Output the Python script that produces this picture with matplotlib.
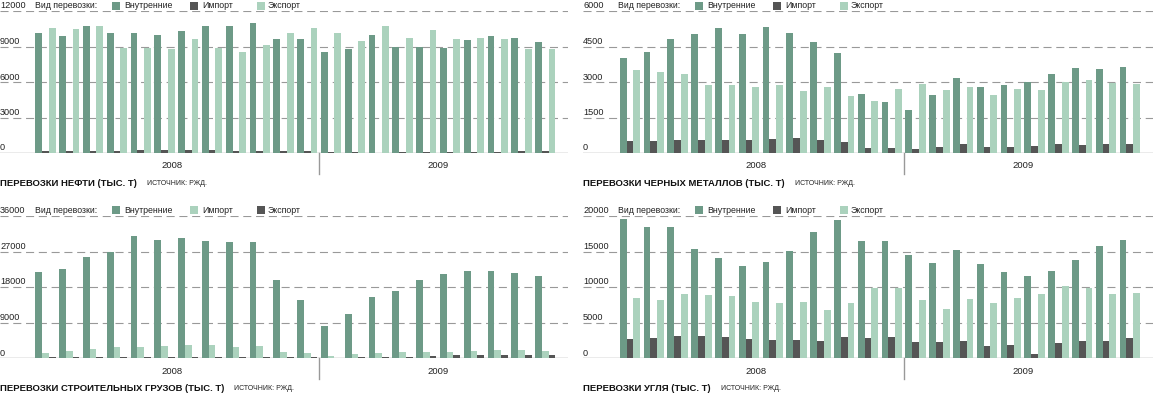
import matplotlib
matplotlib.use("Agg")
import matplotlib.pyplot as plt
import numpy as np

# ---- data (thousand tonnes), Jan 2008 .. Oct 2009 ----
oil_internal = [10100, 9850, 10750, 10150, 10100, 10000, 10300, 10700, 10700, 10950, 9650, 9650,
                8550, 8800, 10000, 8950, 8950, 8900, 9550, 9900, 9750, 9350]
oil_import = [200, 150, 200, 200, 280, 280, 280, 280, 200, 150, 150, 200,
              110, 110, 30, 110, 110, 110, 110, 110, 200, 200]
oil_export = [10600, 10500, 10700, 8900, 8900, 8800, 9600, 8900, 8500, 9100, 10100, 10600,
              10150, 9500, 10750, 9750, 10400, 9600, 9750, 9600, 8800, 8800]

metal_internal = [4020, 4270, 4820, 5040, 5280, 5040, 5340, 5090, 4690, 4230, 2500, 2160,
                  1830, 2460, 3180, 2800, 2880, 3010, 3340, 3600, 3560, 3640]
metal_import = [520, 520, 560, 560, 560, 560, 600, 650, 560, 480, 230, 230,
                180, 270, 390, 270, 270, 310, 390, 350, 390, 390]
metal_export = [3510, 3430, 3340, 2880, 2880, 2800, 2880, 2630, 2800, 2420, 2210, 2710,
                2920, 2670, 2800, 2460, 2710, 2670, 3010, 3090, 2970, 2920]

build_internal = [21840, 22600, 25630, 26900, 30940, 29930, 30440, 29680, 29420, 29420, 19810, 14750,
                  8180, 11210, 15510, 17030, 19810, 21330, 22090, 22090, 21580, 20820]
build_import = [1350, 1850, 2360, 2870, 2870, 3120, 3370, 3370, 2870, 3120, 1600, 1350,
                590, 1100, 1350, 1600, 1600, 1600, 1850, 2110, 2110, 1850]
build_export = [340, 340, 340, 340, 340, 340, 340, 340, 340, 340, 340, 340,
                80, 340, 340, 340, 590, 840, 840, 840, 840, 840]

coal_internal = [19580, 18450, 18450, 15360, 14100, 12970, 13540, 15080, 17750, 19440, 16490, 16490,
                 14520, 13400, 15220, 13260, 12130, 11570, 12270, 13820, 15790, 16630]
coal_import = [2720, 2860, 3140, 3140, 3000, 2720, 2580, 2580, 2440, 3000, 2860, 3000,
               2300, 2300, 2440, 1730, 1870, 610, 2160, 2440, 2440, 2860]
coal_export = [8480, 8200, 9040, 8900, 8760, 7920, 7780, 7920, 6790, 7780, 9880, 9880,
               8200, 6930, 8340, 7780, 8480, 9040, 10160, 9880, 9040, 9180]

years = ["2008", "2009"]
legend_title = "Вид перевозки:"
series_names = ["Внутренние", "Импорт", "Экспорт"]
source = "ИСТОЧНИК: РЖД."

GREEN = "#6d9a87"
LIGHT = "#abd2bd"
GRAY = "#555555"
GRID = "#999999"
INK = "#222222"

plt.rcParams["font.family"] = ["Liberation Sans", "DejaVu Sans"]
plt.rcParams["lines.scale_dashes"] = False

W, H = 1154, 394
fig = plt.figure(figsize=(W / 100, H / 100), dpi=100)

SPACING = 23.8  # px per month


def panel(left, top, width, base, first_px, ymax, ystep, values, colors, title):
    hp = base - top
    ax = fig.add_axes([left / W, 1 - base / H, width / W, hp / H])
    ax.set_axis_off()
    n = len(values[0])
    x = np.arange(n)
    ax.set_xlim(-first_px / SPACING, (width - first_px) / SPACING)
    ax.set_ylim(0, ymax)

    bw = 0.285
    for k, (vals, c) in enumerate(zip(values, colors)):
        ax.bar(x + (k - 1) * bw, vals, bw, color=c, linewidth=0, zorder=3)

    # grid + baseline
    for v in np.arange(ystep, ymax + 1, ystep):
        ax.axhline(v, color=GRID, lw=0.8, dashes=(5.8, 3.4), zorder=1)
    ax.axhline(0, color=GRID, lw=1.0, zorder=2)

    def px(xp, yp):  # pixel offsets from axes top-left
        return xp / width, 1 - yp / hp

    for v in np.arange(0, ymax + 1, ystep):
        ax.text(0, v + ymax * 2.5 / hp, f"{int(v)}", transform=ax.get_yaxis_transform(),
                ha="left", va="baseline", fontsize=6.6, color=INK)

    # legend above the top gridline
    ax.text(*px(35, -5.5), legend_title, transform=ax.transAxes, ha="left", va="center",
            fontsize=6.3, color=INK, clip_on=False)
    for (sx, tx), name, c in zip([(112, 124), (190, 202), (257, 268)], series_names, colors):
        ax.add_patch(plt.Rectangle(px(sx, -1.5), 8 / width, 8 / hp, transform=ax.transAxes,
                                   color=c, clip_on=False, lw=0))
        ax.text(*px(tx, -5.5), name, transform=ax.transAxes, ha="left", va="center",
                fontsize=6.3, color=INK, clip_on=False)

    # year divider and labels
    tr = ax.get_xaxis_transform()
    ax.plot([11.5, 11.5], [0, -21 / hp], color=GRID, lw=1.0, transform=tr, clip_on=False)
    ax.text(5.3, -13 / hp, years[0], transform=tr, ha="center", va="center", fontsize=6.8,
            color=INK)
    ax.text(16.5, -13 / hp, years[1], transform=tr, ha="center", va="center", fontsize=6.8,
            color=INK)

    t = ax.text(*px(0, hp + 30.5), title, transform=ax.transAxes, ha="left", va="center",
                fontsize=6.8, fontweight="bold", color="#111111", clip_on=False)
    return ax, t


panels = [
    panel(0, 11, 568, 153, 45.5, 12000, 3000, [oil_internal, oil_import, oil_export],
          [GREEN, GRAY, LIGHT], "ПЕРЕВОЗКИ НЕФТИ (ТЫС. Т)"),
    panel(583, 11, 570, 153, 47, 6000, 1500, [metal_internal, metal_import, metal_export],
          [GREEN, GRAY, LIGHT], "ПЕРЕВОЗКИ ЧЕРНЫХ МЕТАЛЛОВ (ТЫС. Т)"),
    panel(0, 216, 568, 358, 45.5, 36000, 9000, [build_internal, build_import, build_export],
          [GREEN, LIGHT, GRAY], "ПЕРЕВОЗКИ СТРОИТЕЛЬНЫХ ГРУЗОВ (ТЫС. Т)"),
    panel(583, 216, 570, 358, 47, 20000, 5000, [coal_internal, coal_import, coal_export],
          [GREEN, GRAY, LIGHT], "ПЕРЕВОЗКИ УГЛЯ (ТЫС. Т)"),
]

# source note right after each title
fig.canvas.draw()
r = fig.canvas.get_renderer()
for ax, t in panels:
    bb = t.get_window_extent(r)
    xf, yf = fig.transFigure.inverted().transform((bb.x1 + 10, (bb.y0 + bb.y1) / 2))
    fig.text(xf, yf, source, ha="left", va="center", fontsize=5.0, color=INK)

fig.savefig("out.png", dpi=100)
